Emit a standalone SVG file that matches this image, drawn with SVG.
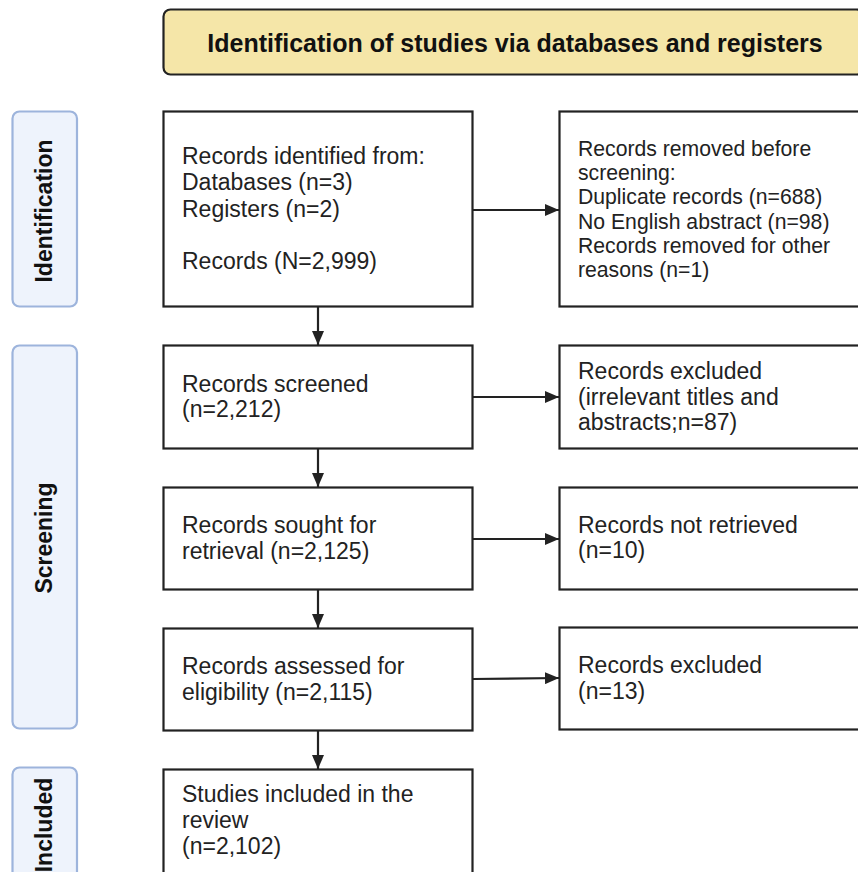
<svg xmlns="http://www.w3.org/2000/svg" width="858" height="872" viewBox="0 0 858 872">
<defs>
<marker id="ah" markerWidth="14" markerHeight="12" refX="14" refY="6" orient="auto" markerUnits="userSpaceOnUse">
<path d="M0,0 L14,6 L0,12 z" fill="#222"/>
</marker>
<style>
.box{fill:#fff;stroke:#222;stroke-width:2.2}
.side{fill:#eef3fc;stroke:#9db4dc;stroke-width:2.2}
.title{fill:#f5e6a8;stroke:#222;stroke-width:2.2}
.t{font-family:"Liberation Sans",Arial,sans-serif;font-size:23px;fill:#222}
.ts{font-family:"Liberation Sans",Arial,sans-serif;font-size:21.2px;fill:#222}
.b{font-family:"Liberation Sans",Arial,sans-serif;font-size:23px;font-weight:bold;fill:#111}
.h{font-family:"Liberation Sans",Arial,sans-serif;font-size:25px;font-weight:bold;fill:#111}
.c{stroke:#222;stroke-width:2.2;fill:none;marker-end:url(#ah)}
</style>
</defs>
<g id="header">
<rect class="title" x="163.5" y="9.5" width="700" height="65" rx="7"/>
<text class="h" x="515" y="52" text-anchor="middle">Identification of studies via databases and registers</text>
</g>
<g id="side-identification">
<rect class="side" x="12.5" y="111.5" width="64.5" height="195" rx="7"/>
<text class="b" transform="translate(52,211) rotate(-90)" text-anchor="middle">Identification</text>
</g>
<g id="side-screening">
<rect class="side" x="12.5" y="345.5" width="64.5" height="383" rx="7"/>
<text class="b" transform="translate(52,538) rotate(-90)" text-anchor="middle">Screening</text>
</g>
<g id="side-included">
<rect class="side" x="12.5" y="767.5" width="64.5" height="195" rx="7"/>
<text class="b" transform="translate(52,825) rotate(-90)" text-anchor="middle">Included</text>
</g>
<g id="identified">
<rect class="box" x="163.5" y="111.5" width="309" height="195"/>
<text class="t" x="182" y="164">Records identified from:</text>
<text class="t" x="182" y="190">Databases (n=3)</text>
<text class="t" x="182" y="217">Registers (n=2)</text>
<text class="t" x="182" y="269">Records (N=2,999)</text>
</g>
<g id="removed">
<rect class="box" x="559.5" y="111.5" width="310" height="195"/>
<text class="ts" x="578" y="156">Records removed before</text>
<text class="ts" x="578" y="180">screening:</text>
<text class="ts" x="578" y="204">Duplicate records (n=688)</text>
<text class="ts" x="578" y="229">No English abstract (n=98)</text>
<text class="ts" x="578" y="253">Records removed for other</text>
<text class="ts" x="578" y="277">reasons (n=1)</text>
</g>
<g id="screened">
<rect class="box" x="163.5" y="345.5" width="309" height="103"/>
<text class="t" x="182" y="392">Records screened</text>
<text class="t" x="182" y="417">(n=2,212)</text>
</g>
<g id="excluded1">
<rect class="box" x="559.5" y="345.5" width="310" height="103"/>
<text class="t" x="578" y="379">Records excluded</text>
<text class="t" x="578" y="405">(irrelevant titles and</text>
<text class="t" x="578" y="430">abstracts;n=87)</text>
</g>
<g id="sought">
<rect class="box" x="163.5" y="487.5" width="309" height="102"/>
<text class="t" x="182" y="533">Records sought for</text>
<text class="t" x="182" y="559">retrieval (n=2,125)</text>
</g>
<g id="notretrieved">
<rect class="box" x="559.5" y="487.5" width="310" height="102"/>
<text class="t" x="578" y="533">Records not retrieved</text>
<text class="t" x="578" y="558">(n=10)</text>
</g>
<g id="assessed">
<rect class="box" x="163.5" y="628.5" width="309" height="102"/>
<text class="t" x="182" y="674">Records assessed for</text>
<text class="t" x="182" y="700">eligibility (n=2,115)</text>
</g>
<g id="excluded2">
<rect class="box" x="559.5" y="627.5" width="310" height="102"/>
<text class="t" x="578" y="673">Records excluded</text>
<text class="t" x="578" y="699">(n=13)</text>
</g>
<g id="included">
<rect class="box" x="163.5" y="769.5" width="309" height="130"/>
<text class="t" x="182" y="802">Studies included in the</text>
<text class="t" x="182" y="828">review</text>
<text class="t" x="182" y="854">(n=2,102)</text>
</g>
<g id="connectors">
<line class="c" x1="318" y1="307" x2="318" y2="345"/>
<line class="c" x1="318" y1="449" x2="318" y2="487"/>
<line class="c" x1="318" y1="590" x2="318" y2="628"/>
<line class="c" x1="318" y1="731" x2="318" y2="769"/>
<line class="c" x1="473" y1="210" x2="559" y2="210"/>
<line class="c" x1="473" y1="397" x2="559" y2="397"/>
<line class="c" x1="473" y1="539" x2="559" y2="539"/>
<line class="c" x1="473" y1="679" x2="559" y2="678"/>
</g>
</svg>
